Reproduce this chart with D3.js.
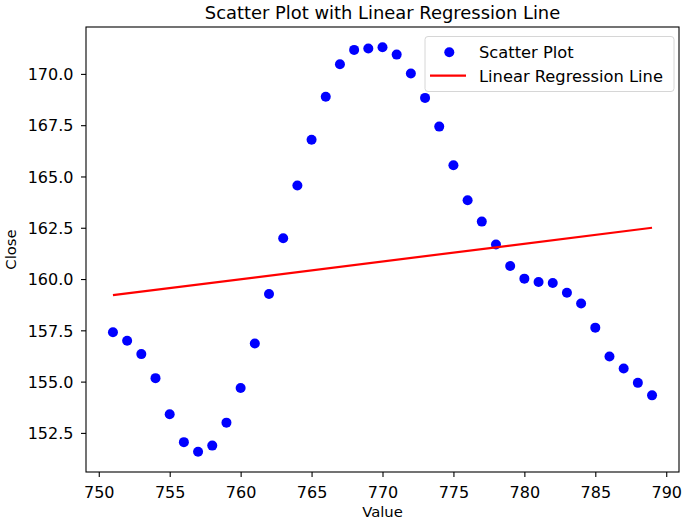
<!DOCTYPE html>
<html>
<head>
<meta charset="utf-8">
<script src="https://cdn.jsdelivr.net/npm/d3@7"></script>
<style>
  html, body { margin: 0; padding: 0; background: #fff; }
  svg { display: block; font-family: "DejaVu Sans", sans-serif; }
</style>
</head>
<body>
<svg id="chart" width="685" height="523"></svg>
<script>
// ---- data ----
const xValues = [751,752,753,754,755,756,757,758,759,760,761,762,763,764,765,766,767,768,769,770,
                 771,772,773,774,775,776,777,778,779,780,781,782,783,784,785,786,787,788,789];
const closeValues = [157.41,156.99,156.34,155.17,153.41,152.05,151.58,151.88,153.00,154.69,
                     156.86,159.27,161.99,164.56,166.79,168.89,170.47,171.17,171.24,171.30,
                     170.94,170.02,168.83,167.43,165.55,163.84,162.80,161.68,160.64,160.02,
                     159.86,159.81,159.33,158.81,157.63,156.22,155.64,154.94,154.33];
const xTicks = [750,755,760,765,770,775,780,785,790];
const yTicks = [152.5,155.0,157.5,160.0,162.5,165.0,167.5,170.0];
const titleText = "Scatter Plot with Linear Regression Line";
const xLabel = "Value";
const yLabel = "Close";
const legendLabels = ["Scatter Plot", "Linear Regression Line"];

// ---- layout ----
const L = 86, R = 679, T = 27, B = 472;
const fsTick = 16;
const fsLabel = 14.8;
const fsLegend = 16.3;

const svg = d3.select("#chart");

const xMin = d3.min(xValues), xMax = d3.max(xValues);
const yMin = d3.min(closeValues), yMax = d3.max(closeValues);
const xPad = (xMax - xMin) * 0.05, yPad = (yMax - yMin) * 0.05;

const x = d3.scaleLinear().domain([xMin - xPad, xMax + xPad]).range([L, R]);
const y = d3.scaleLinear().domain([yMin - yPad, yMax + yPad]).range([B, T]);

// least squares regression computed from the data
const mx = d3.mean(xValues), my = d3.mean(closeValues);
let sxy = 0, sxx = 0;
xValues.forEach((v, i) => { sxy += (v - mx) * (closeValues[i] - my); sxx += (v - mx) * (v - mx); });
const slope = sxy / sxx, intercept = my - slope * mx;
const regLine = [xMin, xMax].map(v => [v, intercept + slope * v]);

// scatter points
svg.append("g").selectAll("circle")
  .data(xValues.map((v, i) => [v, closeValues[i]]))
  .join("circle")
  .attr("cx", d => x(d[0]))
  .attr("cy", d => y(d[1]))
  .attr("r", 5)
  .attr("fill", "#0000ff");

// regression line
svg.append("path")
  .datum(regLine)
  .attr("d", d3.line().x(d => x(d[0])).y(d => y(d[1])))
  .attr("fill", "none")
  .attr("stroke", "#ff0000")
  .attr("stroke-width", 2.2);

// axes
const xAxis = svg.append("g")
  .attr("transform", `translate(0,${B})`)
  .call(d3.axisBottom(x).tickValues(xTicks).tickFormat(d3.format("d")).tickSize(5).tickSizeOuter(0));
xAxis.select(".domain").remove();
xAxis.selectAll(".tick line").attr("stroke", "#000").attr("stroke-width", 1.1);
xAxis.selectAll(".tick text")
  .attr("y", 25.5).attr("dy", null)
  .attr("font-size", fsTick).attr("font-family", "DejaVu Sans").attr("fill", "#000");

const yAxis = svg.append("g")
  .attr("transform", `translate(${L},0)`)
  .call(d3.axisLeft(y).tickValues(yTicks).tickFormat(d3.format(".1f")).tickSize(5).tickSizeOuter(0));
yAxis.select(".domain").remove();
yAxis.selectAll(".tick line").attr("stroke", "#000").attr("stroke-width", 1.1);
yAxis.selectAll(".tick text")
  .attr("x", -12.5).attr("dy", "0.36em")
  .attr("font-size", fsTick).attr("font-family", "DejaVu Sans").attr("fill", "#000");

// frame
svg.append("rect")
  .attr("x", L).attr("y", T).attr("width", R - L).attr("height", B - T)
  .attr("fill", "none").attr("stroke", "#000").attr("stroke-width", 1.1);

// title
svg.append("text")
  .attr("x", (L + R) / 2).attr("y", 18.5)
  .attr("text-anchor", "middle")
  .attr("font-size", 17.9)
  .attr("fill", "#000")
  .text(titleText);

// axis labels
svg.append("text")
  .attr("x", (L + R) / 2).attr("y", 517)
  .attr("text-anchor", "middle")
  .attr("font-size", fsLabel)
  .attr("fill", "#000")
  .text(xLabel);

svg.append("text")
  .attr("transform", `translate(16,${(T + B) / 2}) rotate(-90)`)
  .attr("text-anchor", "middle")
  .attr("font-size", fsLabel)
  .attr("fill", "#000")
  .text(yLabel);

// legend
const lg = svg.append("g");
lg.append("rect")
  .attr("x", 425).attr("y", 36.5).attr("width", 249).attr("height", 55)
  .attr("rx", 3).attr("ry", 3)
  .attr("fill", "#fff").attr("fill-opacity", 0.8)
  .attr("stroke", "#d6d6d6").attr("stroke-width", 1);
lg.append("circle").attr("cx", 449.3).attr("cy", 52.3).attr("r", 5).attr("fill", "#0000ff");
lg.append("line").attr("x1", 430).attr("x2", 466).attr("y1", 75.7).attr("y2", 75.7)
  .attr("stroke", "#ff0000").attr("stroke-width", 2.2);
lg.selectAll("text.leg").data(legendLabels).join("text")
  .attr("class", "leg")
  .attr("x", 479).attr("y", (d, i) => 57.5 + i * 24.5)
  .attr("font-size", fsLegend).attr("fill", "#000")
  .text(d => d);
</script>
</body>
</html>
